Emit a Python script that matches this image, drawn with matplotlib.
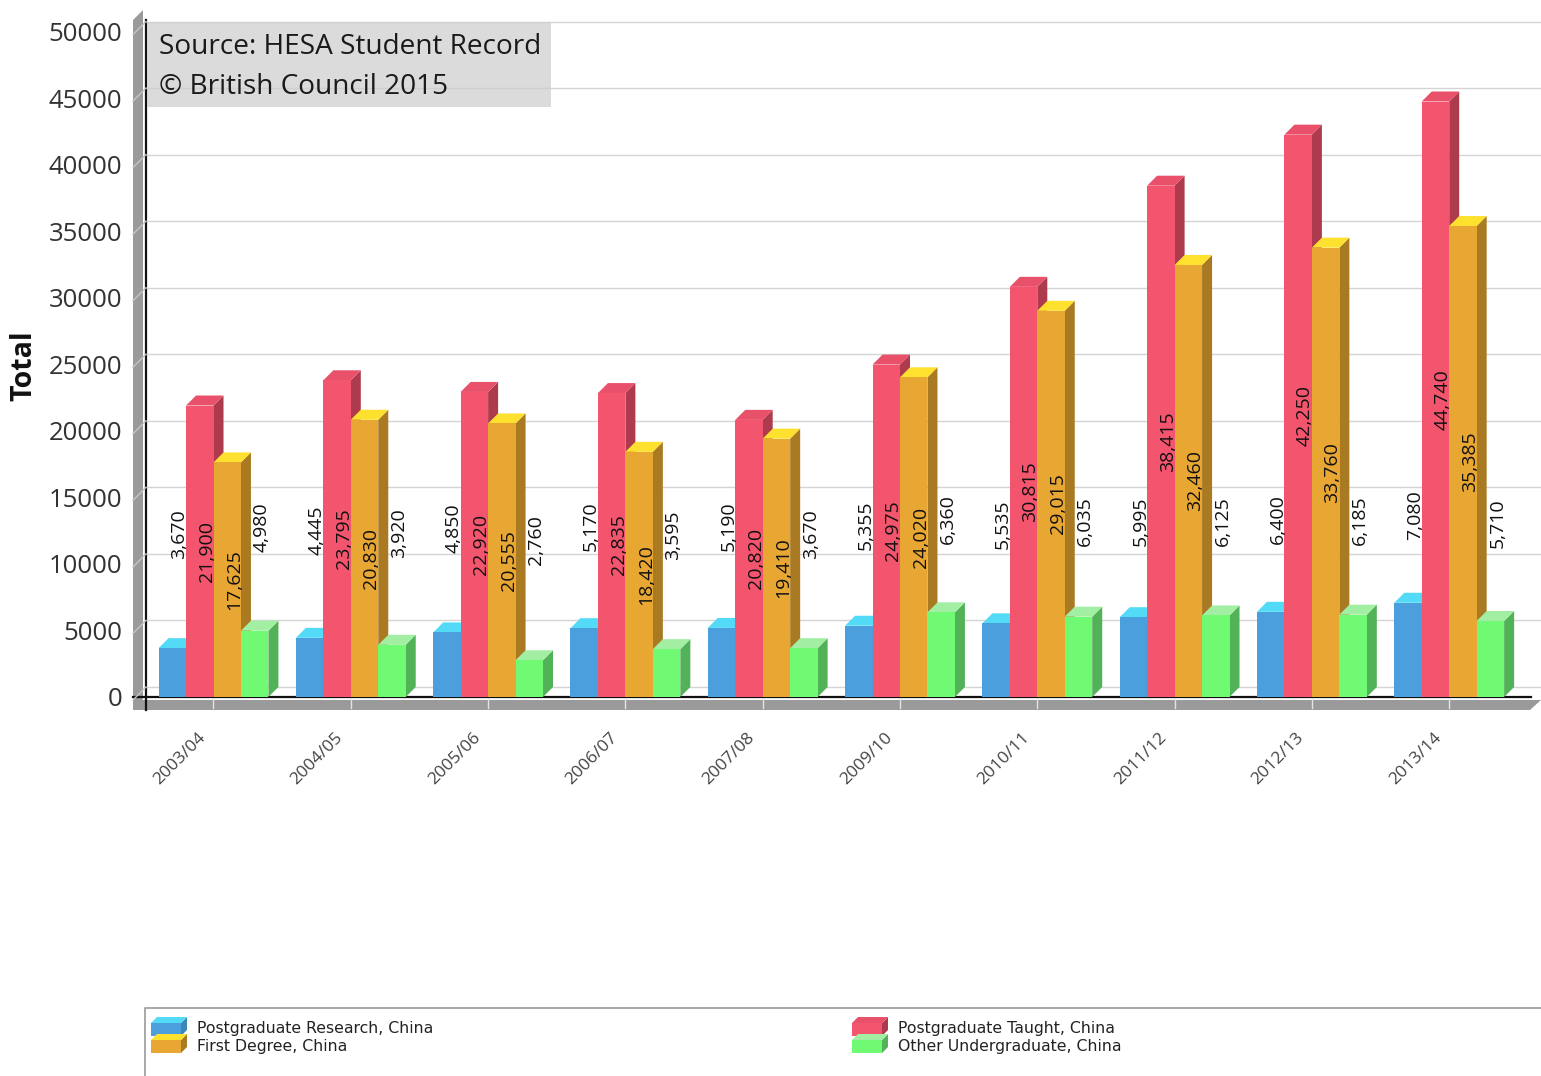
#!/usr/bin/env python3
"""UK enrolments of Chinese students by level, drawn as faux-3D bars."""

import matplotlib
matplotlib.use('Agg')
import matplotlib.pyplot as plt
from matplotlib.patches import Polygon, Rectangle
from matplotlib.transforms import ScaledTranslation
import numpy as np

plt.rcParams['font.family'] = ['Open Sans', 'DejaVu Sans']

years = ['2003/04', '2004/05', '2005/06', '2006/07', '2007/08',
         '2009/10', '2010/11', '2011/12', '2012/13', '2013/14']
pg_research = [3670, 4445, 4850, 5170, 5190, 5355, 5535, 5995, 6400, 7080]
pg_taught = [21900, 23795, 22920, 22835, 20820, 24975, 30815, 38415, 42250, 44740]
first_degree = [17625, 20830, 20555, 18420, 19410, 24020, 29015, 32460, 33760, 35385]
other_ug = [4980, 3920, 2760, 3595, 3670, 6360, 6035, 6125, 6185, 5710]
y_ticks = [0, 5000, 10000, 15000, 20000, 25000, 30000, 35000, 40000, 45000, 50000]
legend_names = ['Postgraduate Research, China', 'Postgraduate Taught, China',
                'First Degree, China', 'Other Undergraduate, China']

# (front, top, side)
BLUE = ('#4a9fdc', '#52daf6', '#3d86b8')
RED = ('#f4556e', '#e9506a', '#ae3a4e')
ORANGE = ('#e8a632', '#fde12e', '#a97a22')
GREEN = ('#70fa73', '#a2eea2', '#52b257')
series = [(pg_research, BLUE), (pg_taught, RED), (first_degree, ORANGE), (other_ug, GREEN)]

W, H = 1541, 1076
X0, STEP = 213.5, 137.3       # first group centre and group spacing, px
Y0, PX_PER_UNIT = 697, 665.5 / 50000
DEPTH = 10                    # 3D offset, px
AX_LEFT, AX_TOP = 146, 15

fig = plt.figure(figsize=(W / 100, H / 100), dpi=100, facecolor='white')

# pixel-space layer for the wall, floor and legend
deco = fig.add_axes([0, 0, 1, 1], zorder=0)
deco.set_xlim(0, W)
deco.set_ylim(H, 0)
deco.axis('off')

ax = fig.add_axes([AX_LEFT / W, 1 - Y0 / H, (W - AX_LEFT) / W, (Y0 - AX_TOP) / H], zorder=1)
ax.patch.set_alpha(0)
ax.set_xlim((AX_LEFT - X0) / STEP, (W - X0) / STEP)
ax.set_ylim(0, (Y0 - AX_TOP) / PX_PER_UNIT)
for s in ax.spines.values():
    s.set_visible(False)

dx = DEPTH / STEP
dy = DEPTH / PX_PER_UNIT
bar_w = 0.2

# wall and floor
deco.add_patch(Polygon([(133, 20), (143, 10), (143, 699), (133, 710)], color='#9a9a9a', lw=0))
deco.add_patch(Polygon([(133, 700), (1541, 700), (1530, 710), (133, 710)], color='#9a9a9a', lw=0))
deco.plot([133, 1531], [697, 697], color='#111111', lw=1.6, zorder=3)
deco.plot([146, 146], [20, 710], color='#111111', lw=1.6, zorder=3)

# grid sits on the back wall, one depth step above the value it marks
ax.hlines(np.array(y_ticks) + dy, ax.get_xlim()[0], ax.get_xlim()[1], color='#d4d4d4', lw=1.0, zorder=1)
for t in y_ticks:
    ax.plot([ax.get_xlim()[0] - 1.3 * dx, ax.get_xlim()[0]], [t - 0.3 * dy, t + dy], color='#c4c4c4',
            lw=1, clip_on=False, zorder=1)

x = np.arange(len(years))
z = 2
for i, (vals, cols) in enumerate(series):
    left = x - 2 * bar_w + i * bar_w
    for l, v in zip(left, vals):
        r = l + bar_w
        ax.add_patch(Polygon([(r, 0), (r + dx, dy), (r + dx, v + dy), (r, v)],
                             color=cols[2], lw=0, zorder=z))
        ax.add_patch(Polygon([(l, v), (l + dx, v + dy), (r + dx, v + dy), (r, v)],
                             color=cols[1], lw=0, zorder=z))
    ax.bar(left, vals, width=bar_w, align='edge', color=cols[0], lw=0, zorder=z + 1)
    z += 2

# value labels: centred in tall bars, floated above short ones
for i, (vals, cols) in enumerate(series):
    left = x - 2 * bar_w + i * bar_w
    for l, v in zip(left, vals):
        yc = v / 2 if v > 10000 else 10660 + 0.42 * v
        ax.text(l + bar_w / 2 + 0.05, yc, f'{v:,}', rotation=90, ha='center', va='center',
                fontsize=14, color='#111111', zorder=20)

# floor ticks
for c in x:
    deco.plot([X0 + c * STEP] * 2, [699, 708], color='#e4e4e4', lw=1, zorder=4)

ax.set_yticks(y_ticks)
ax.set_yticklabels([str(t) for t in y_ticks], fontsize=18.5, color='#333333')
ax.set_xticks(x)
ax.set_xticklabels(years, rotation=45, ha='right', rotation_mode='anchor', fontsize=12.5, color='#444444')
ax.tick_params(axis='y', length=0, pad=17)
ax.tick_params(axis='x', length=0, pad=30)
nudge = ScaledTranslation(-16 / 100, 9 / 100, fig.dpi_scale_trans)
for lab in ax.get_xticklabels():
    lab.set_transform(lab.get_transform() + nudge)
ax.set_ylabel('Total', fontsize=20.5, fontweight='bold', color='#111111')
ax.yaxis.set_label_coords((38 - AX_LEFT) / (W - AX_LEFT), (Y0 - 366) / (Y0 - AX_TOP))

# source box
ax.add_patch(Rectangle((147, 22), 404, 85, transform=deco.transData, color='#cfcfcf', alpha=0.75,
                       lw=0, zorder=30))
ax.text(159, 47, 'Source: HESA Student Record', transform=deco.transData, fontsize=20.15,
        color='#1a1a1a', va='center', zorder=31)
ax.text(159, 87, '\u00a9 British Council 2015', transform=deco.transData, fontsize=20.15,
        color='#1a1a1a', va='center', zorder=31)

# legend
deco.plot([145, 145, W], [H, 1008, 1008], color='#a8a8a8', lw=1.4)
swatches = [(151, 1023, BLUE), (852, 1023, RED), (151, 1040, ORANGE), (852, 1040, GREEN)]
for (sx, sy, cols), name in zip(swatches, legend_names):
    deco.add_patch(Polygon([(sx + 30, sy), (sx + 36, sy - 6), (sx + 36, sy + 7), (sx + 30, sy + 13)],
                           color=cols[2], lw=0))
    deco.add_patch(Polygon([(sx, sy), (sx + 6, sy - 6), (sx + 36, sy - 6), (sx + 30, sy)],
                           color=cols[1], lw=0))
    deco.add_patch(Rectangle((sx, sy), 30, 13, color=cols[0], lw=0))
    deco.text(sx + 46, sy + 6, name, fontsize=11.3, family='DejaVu Sans', color='#222222', va='center')

fig.savefig('out.png', dpi=100, facecolor='white')
